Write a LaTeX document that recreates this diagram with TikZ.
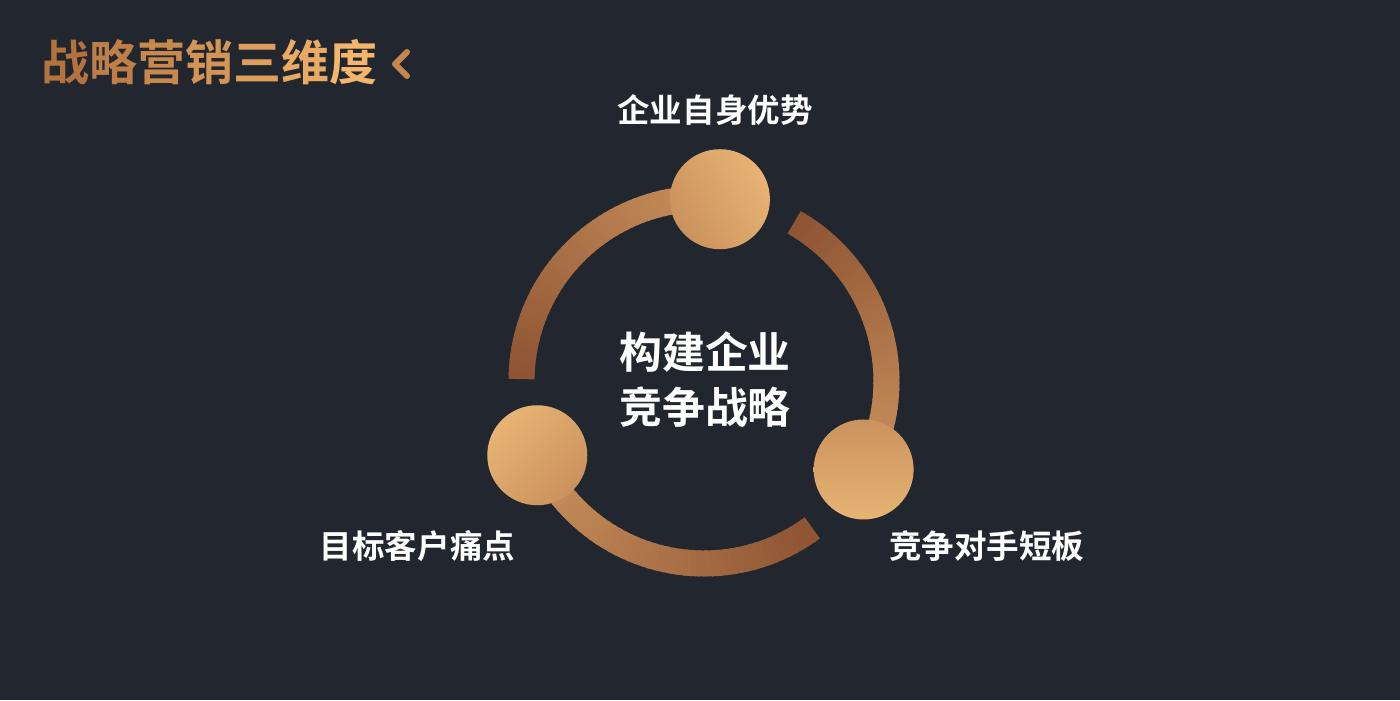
\documentclass[tikz,border=0pt]{standalone}
\usepackage{fontspec}
\setmainfont{Noto Sans CJK SC}[BoldFont={Noto Sans CJK SC Bold}]
\usetikzlibrary{positioning}
\definecolor{bg}{HTML}{22262E}
\definecolor{lt}{HTML}{E7B474}
\definecolor{md}{HTML}{CB925D}
\definecolor{dk}{HTML}{8E5434}
\definecolor{tl}{HTML}{B2733F}
\definecolor{tr}{HTML}{F4B56C}
\tikzset{
  lbl/.style={text=white, inner sep=0pt, font=\bfseries\fontsize{9.25}{11}\selectfont},
  ball/.style={circle, minimum size=1cm, inner sep=0pt},
}

\begin{document}
\begin{tikzpicture}
		\fill[bg] (0,0) rectangle (14,7);
		\useasboundingbox (0,0) rectangle (14,7);
		% title
		\node[anchor=west, inner sep=0pt, font=\bfseries\fontsize{13.66}{16}\selectfont] (title) at (0.41,6.38) {\textcolor{tl}{战}\textcolor{tl!83!tr}{略}\textcolor{tl!67!tr}{营}\textcolor{tl!50!tr}{销}\textcolor{tl!33!tr}{三}\textcolor{tl!17!tr}{维}\textcolor{tr}{度}};
		\draw[tl!70!tr, line width=0.06cm, line cap=round, line join=round] (4.07,6.48) -- (3.95,6.36) -- (4.07,6.24);
		\begin{scope}[shift={(7.04,3.19)}]
		% ring arms
		\foreach \a/\b in {85/179.4, 204/306.4, 331/420.4} {
			\foreach \i in {0,...,47} {
				\pgfmathsetmacro\s{\a+(\b-\a)*\i/48}
				\pgfmathsetmacro\e{min(\b,\a+(\b-\a)*(\i+1.4)/48)}
				\pgfmathtruncatemacro\p{100-100*\i/47}
				\draw[md!\p!dk, line width=0.26cm] (\s:1.825) arc[start angle=\s, end angle=\e, radius=1.825];
			}
		}
		\node[ball, left color=md, right color=lt, shading angle=120] (top) at (85:1.825) {};
		\node[ball, left color=md, right color=lt, shading angle=0] (right) at (-29:1.825) {};
		\node[ball, left color=md, right color=lt, shading angle=225] (left) at (204:1.825) {};
		\end{scope}
		\node[text=white, align=center, inner sep=0pt, font=\bfseries\fontsize{12.2}{15.6}\selectfont] (core) at (7.05,3.205) {构建企业\\竞争战略};
		\node[lbl] (toplbl) at (7.15,5.90) {企业自身优势};
		\node[lbl] (leftlbl) at (4.175,1.535) {目标客户痛点};
		\node[lbl] (rightlbl) at (9.867,1.535) {竞争对手短板};
		\end{tikzpicture}
\end{document}
